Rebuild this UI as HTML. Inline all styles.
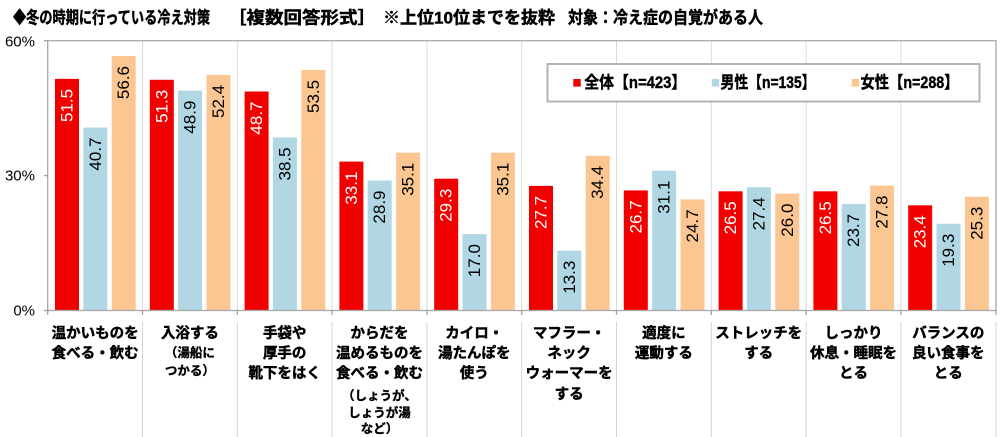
<!DOCTYPE html>
<html>
<head>
<meta charset="utf-8">
<style>
html,body{margin:0;padding:0;background:#fff;}
svg{display:block;}
.jp{font-family:"Liberation Sans","Noto Sans CJK JP",sans-serif;}
.cat{font-family:"Liberation Sans","Noto Sans CJK JP",sans-serif;font-weight:bold;font-size:14.5px;fill:#000;stroke:#000;stroke-width:0.45px;}
.sm{font-size:12.5px;stroke-width:0.35px;}
.v{font-family:"Liberation Sans",sans-serif;font-size:17px;}
.ax{font-family:"Liberation Sans",sans-serif;font-size:15px;fill:#000;}
</style>
</head>
<body>
<svg width="1000" height="437" viewBox="0 0 1000 437" xmlns="http://www.w3.org/2000/svg">
<rect x="0" y="0" width="1000" height="437" fill="#fff"/>

<!-- Title -->
<g class="jp" font-weight="bold" font-size="17" fill="#000" stroke="#000" stroke-width="0.45" dominant-baseline="central">
<text x="13" y="18" textLength="197" lengthAdjust="spacingAndGlyphs">◆冬の時期に行っている冷え対策</text>
<text x="228" y="18" textLength="148" lengthAdjust="spacingAndGlyphs">［複数回答形式］</text>
<text x="383" y="18" textLength="172" lengthAdjust="spacingAndGlyphs">※上位10位までを抜粋</text>
<text x="568" y="18" textLength="195" lengthAdjust="spacingAndGlyphs">対象：冷え症の自覚がある人</text>
</g>

<!-- vertical gridlines in plot -->
<g stroke="#dadada" stroke-width="1">
<line x1="142.5" y1="41" x2="142.5" y2="310.5"/>
<line x1="237.3" y1="41" x2="237.3" y2="310.5"/>
<line x1="332.1" y1="41" x2="332.1" y2="310.5"/>
<line x1="426.9" y1="41" x2="426.9" y2="310.5"/>
<line x1="521.7" y1="41" x2="521.7" y2="310.5"/>
<line x1="616.5" y1="41" x2="616.5" y2="310.5"/>
<line x1="711.3" y1="41" x2="711.3" y2="310.5"/>
<line x1="806.1" y1="41" x2="806.1" y2="310.5"/>
<line x1="900.9" y1="41" x2="900.9" y2="310.5"/>
</g>

<!-- separators in label area -->
<g stroke="#d4d4d4" stroke-width="1">
<line x1="142.5" y1="322" x2="142.5" y2="437"/>
<line x1="237.3" y1="322" x2="237.3" y2="437"/>
<line x1="332.1" y1="322" x2="332.1" y2="437"/>
<line x1="426.9" y1="322" x2="426.9" y2="437"/>
<line x1="521.7" y1="322" x2="521.7" y2="437"/>
<line x1="616.5" y1="322" x2="616.5" y2="437"/>
<line x1="711.3" y1="322" x2="711.3" y2="437"/>
<line x1="806.1" y1="322" x2="806.1" y2="437"/>
<line x1="900.9" y1="322" x2="900.9" y2="437"/>
<line x1="996" y1="322" x2="996" y2="437"/>
</g>

<!-- Bars -->
<g>
<rect x="55.0" y="78.9" width="24" height="231.6" fill="#f20000"/>
<rect x="83.3" y="127.5" width="24" height="183.0" fill="#b0d7e3"/>
<rect x="111.7" y="56.0" width="24" height="254.5" fill="#fbc692"/>

<rect x="149.8" y="79.8" width="24" height="230.7" fill="#f20000"/>
<rect x="178.1" y="90.6" width="24" height="219.9" fill="#b0d7e3"/>
<rect x="206.5" y="74.9" width="24" height="235.6" fill="#fbc692"/>

<rect x="244.6" y="91.5" width="24" height="219.0" fill="#f20000"/>
<rect x="272.9" y="137.4" width="24" height="173.1" fill="#b0d7e3"/>
<rect x="301.3" y="69.9" width="24" height="240.6" fill="#fbc692"/>

<rect x="339.4" y="161.6" width="24" height="148.9" fill="#f20000"/>
<rect x="367.7" y="180.5" width="24" height="130.0" fill="#b0d7e3"/>
<rect x="396.1" y="152.7" width="24" height="157.8" fill="#fbc692"/>

<rect x="434.2" y="178.7" width="24" height="131.8" fill="#f20000"/>
<rect x="462.5" y="234.1" width="24" height="76.4" fill="#b0d7e3"/>
<rect x="490.9" y="152.7" width="24" height="157.8" fill="#fbc692"/>

<rect x="529.0" y="185.9" width="24" height="124.6" fill="#f20000"/>
<rect x="557.3" y="250.7" width="24" height="59.8" fill="#b0d7e3"/>
<rect x="585.7" y="155.8" width="24" height="154.7" fill="#fbc692"/>

<rect x="623.8" y="190.4" width="24" height="120.1" fill="#f20000"/>
<rect x="652.1" y="170.6" width="24" height="139.9" fill="#b0d7e3"/>
<rect x="680.5" y="199.4" width="24" height="111.1" fill="#fbc692"/>

<rect x="718.6" y="191.3" width="24" height="119.2" fill="#f20000"/>
<rect x="746.9" y="187.3" width="24" height="123.2" fill="#b0d7e3"/>
<rect x="775.3" y="193.6" width="24" height="116.9" fill="#fbc692"/>

<rect x="813.4" y="191.3" width="24" height="119.2" fill="#f20000"/>
<rect x="841.7" y="203.9" width="24" height="106.6" fill="#b0d7e3"/>
<rect x="870.1" y="185.5" width="24" height="125.0" fill="#fbc692"/>

<rect x="908.2" y="205.3" width="24" height="105.2" fill="#f20000"/>
<rect x="936.5" y="223.7" width="24" height="86.8" fill="#b0d7e3"/>
<rect x="964.9" y="196.7" width="24" height="113.8" fill="#fbc692"/>
</g>

<!-- Value labels -->
<g class="v" text-anchor="end" dominant-baseline="central">
<text transform="translate(67.0,88.9) rotate(-90)" fill="#fff">51.5</text>
<text transform="translate(95.3,137.5) rotate(-90)" fill="#000">40.7</text>
<text transform="translate(123.7,66.0) rotate(-90)" fill="#000">56.6</text>

<text transform="translate(161.8,89.8) rotate(-90)" fill="#fff">51.3</text>
<text transform="translate(190.1,100.6) rotate(-90)" fill="#000">48.9</text>
<text transform="translate(218.5,84.9) rotate(-90)" fill="#000">52.4</text>

<text transform="translate(256.6,101.5) rotate(-90)" fill="#fff">48.7</text>
<text transform="translate(284.9,147.4) rotate(-90)" fill="#000">38.5</text>
<text transform="translate(313.3,79.9) rotate(-90)" fill="#000">53.5</text>

<text transform="translate(351.4,171.6) rotate(-90)" fill="#fff">33.1</text>
<text transform="translate(379.7,190.5) rotate(-90)" fill="#000">28.9</text>
<text transform="translate(408.1,162.7) rotate(-90)" fill="#000">35.1</text>

<text transform="translate(446.2,188.7) rotate(-90)" fill="#fff">29.3</text>
<text transform="translate(474.5,244.1) rotate(-90)" fill="#000">17.0</text>
<text transform="translate(502.9,162.7) rotate(-90)" fill="#000">35.1</text>

<text transform="translate(541.0,195.9) rotate(-90)" fill="#fff">27.7</text>
<text transform="translate(569.3,260.7) rotate(-90)" fill="#000">13.3</text>
<text transform="translate(597.7,165.8) rotate(-90)" fill="#000">34.4</text>

<text transform="translate(635.8,200.4) rotate(-90)" fill="#fff">26.7</text>
<text transform="translate(664.1,180.6) rotate(-90)" fill="#000">31.1</text>
<text transform="translate(692.5,209.4) rotate(-90)" fill="#000">24.7</text>

<text transform="translate(730.6,201.3) rotate(-90)" fill="#fff">26.5</text>
<text transform="translate(758.9,197.3) rotate(-90)" fill="#000">27.4</text>
<text transform="translate(787.3,203.6) rotate(-90)" fill="#000">26.0</text>

<text transform="translate(825.4,201.3) rotate(-90)" fill="#fff">26.5</text>
<text transform="translate(853.7,213.9) rotate(-90)" fill="#000">23.7</text>
<text transform="translate(882.1,195.5) rotate(-90)" fill="#000">27.8</text>

<text transform="translate(920.2,215.3) rotate(-90)" fill="#fff">23.4</text>
<text transform="translate(948.5,233.7) rotate(-90)" fill="#000">19.3</text>
<text transform="translate(976.9,206.7) rotate(-90)" fill="#000">25.3</text>
</g>

<!-- Plot border / axes -->
<rect x="47.7" y="40.7" width="948.3" height="269.8" fill="none" stroke="#a8a8a8" stroke-width="1.3"/>
<g stroke="#a0a0a0" stroke-width="1.3">
<line x1="44" y1="40.7" x2="47.7" y2="40.7"/>
<line x1="44" y1="175.6" x2="47.7" y2="175.6"/>
<line x1="44" y1="310.5" x2="47.7" y2="310.5"/>
<line x1="47.7" y1="310.5" x2="47.7" y2="315"/>
<line x1="142.5" y1="310.5" x2="142.5" y2="315"/>
<line x1="237.3" y1="310.5" x2="237.3" y2="315"/>
<line x1="332.1" y1="310.5" x2="332.1" y2="315"/>
<line x1="426.9" y1="310.5" x2="426.9" y2="315"/>
<line x1="521.7" y1="310.5" x2="521.7" y2="315"/>
<line x1="616.5" y1="310.5" x2="616.5" y2="315"/>
<line x1="711.3" y1="310.5" x2="711.3" y2="315"/>
<line x1="806.1" y1="310.5" x2="806.1" y2="315"/>
<line x1="900.9" y1="310.5" x2="900.9" y2="315"/>
<line x1="996" y1="310.5" x2="996" y2="315"/>
</g>

<!-- Y axis labels -->
<g class="ax" text-anchor="end" dominant-baseline="central">
<text x="35" y="42">60%</text>
<text x="35" y="176">30%</text>
<text x="35" y="311">0%</text>
</g>

<!-- Legend -->
<rect x="547.5" y="64" width="432" height="37.5" fill="#fff" stroke="#b4b4b4" stroke-width="2"/>
<rect x="573.3" y="79" width="7.4" height="7.6" fill="#f20000"/>
<rect x="711.7" y="79" width="7.4" height="7.6" fill="#b0d7e3"/>
<rect x="851.7" y="79" width="7.4" height="7.6" fill="#fbc692"/>
<g class="jp" font-weight="bold" font-size="16.5" fill="#000" stroke="#000" stroke-width="0.4" dominant-baseline="central">
<text x="584.3" y="83" textLength="102" lengthAdjust="spacingAndGlyphs">全体【n=423】</text>
<text x="720.5" y="83" textLength="95" lengthAdjust="spacingAndGlyphs">男性【n=135】</text>
<text x="860.5" y="83" textLength="98" lengthAdjust="spacingAndGlyphs">女性【n=288】</text>
</g>

<!-- Category labels -->
<g class="cat" text-anchor="middle" dominant-baseline="central">
<text x="95.1" y="334">温かいものを</text>
<text x="95.1" y="354">食べる・飲む</text>

<text x="189.9" y="334">入浴する</text>
<text x="189.9" y="353" class="cat sm">（湯船に</text>
<text x="189.9" y="371" class="cat sm">つかる）</text>

<text x="284.7" y="334">手袋や</text>
<text x="284.7" y="354">厚手の</text>
<text x="284.7" y="374">靴下をはく</text>

<text x="379.5" y="334">からだを</text>
<text x="379.5" y="354">温めるものを</text>
<text x="379.5" y="374">食べる・飲む</text>
<text x="379.5" y="396" class="cat sm">（しょうが、</text>
<text x="379.5" y="413" class="cat sm">しょうが湯</text>
<text x="379.5" y="429" class="cat sm">など）</text>

<text x="474.3" y="334">カイロ・</text>
<text x="474.3" y="354">湯たんぽを</text>
<text x="474.3" y="374">使う</text>

<text x="569.1" y="334">マフラー・</text>
<text x="569.1" y="354">ネック</text>
<text x="569.1" y="374">ウォーマーを</text>
<text x="569.1" y="395">する</text>

<text x="663.9" y="334">適度に</text>
<text x="663.9" y="354">運動する</text>

<text x="758.7" y="334">ストレッチを</text>
<text x="758.7" y="354">する</text>

<text x="853.5" y="334">しっかり</text>
<text x="853.5" y="354">休息・睡眠を</text>
<text x="853.5" y="374">とる</text>

<text x="948.3" y="334">バランスの</text>
<text x="948.3" y="354">良い食事を</text>
<text x="948.3" y="374">とる</text>
</g>
</svg>
</body>
</html>
